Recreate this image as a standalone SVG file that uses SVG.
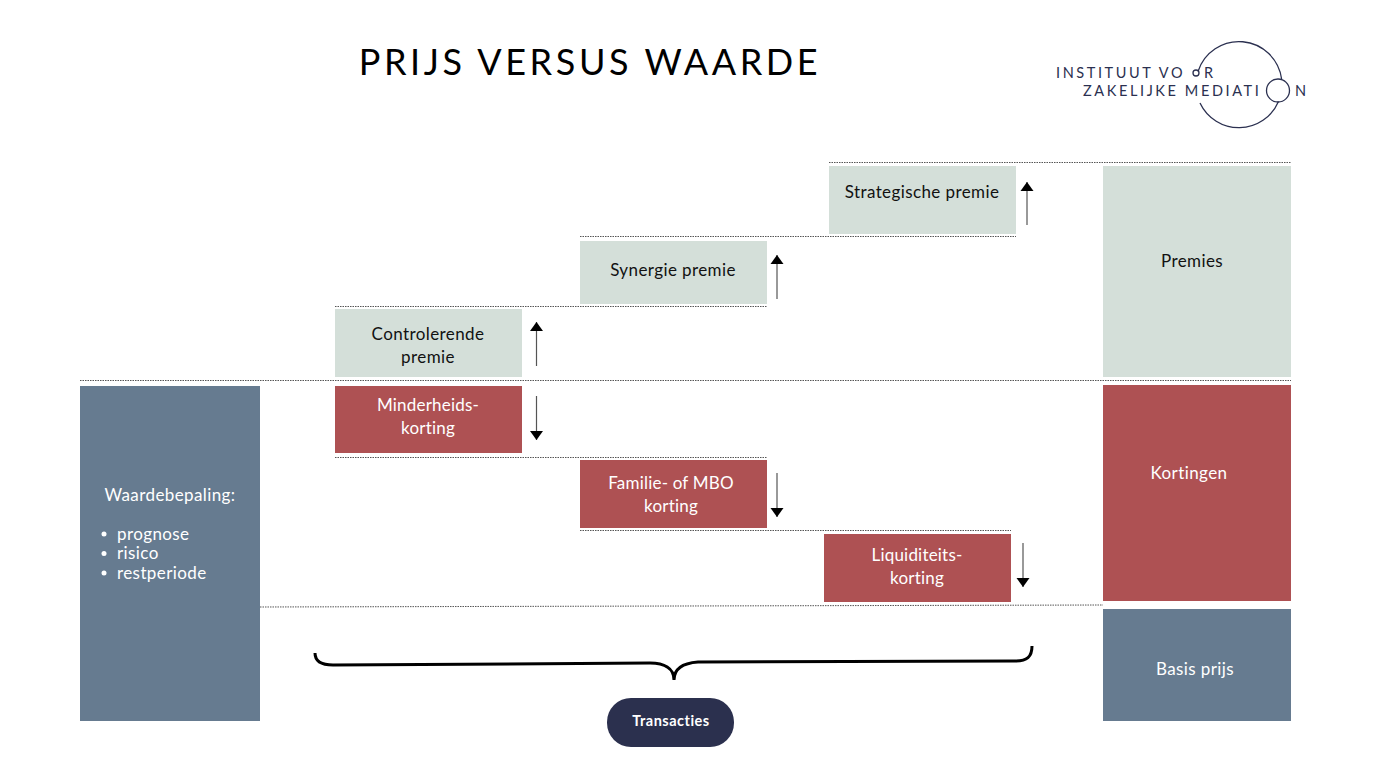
<svg xmlns="http://www.w3.org/2000/svg" width="1378" height="776" viewBox="0 0 1378 776">
<style>
text{font-family:"Lato","Open Sans",sans-serif;font-size:17px;letter-spacing:.4px;text-anchor:middle}
.d{fill:#111}.w{fill:#fff}
.g{fill:#d4dfd9}.r{fill:#ae5153}.b{fill:#667b90}
.dot{stroke:#555;stroke-width:1;stroke-dasharray:1.5 1;fill:none}
.arr{stroke:#555;stroke-width:1.2;fill:none}
text.logo{font-size:14.500px;letter-spacing:2.600px;fill:#2b3050;text-anchor:start}
.lc{fill:none;stroke:#2b3050;stroke-width:1.300}
</style>
<defs>
<marker id="ah" markerUnits="userSpaceOnUse" markerWidth="10" markerHeight="14" refX="9" refY="7" orient="auto"><path d="M0 .5L9 7L0 13.500Z" fill="#000"/></marker>
</defs>
<rect width="1378" height="776" fill="#fff"/>
<text x="590" y="75" style="font-size:36px;letter-spacing:3.600px" fill="#000">PRIJS VERSUS WAARDE</text>
<g id="logo">
<path class="lc" d="M1198 71.500A43 43 0 0 1 1281.600 79"/>
<path class="lc" d="M1278.500 101.500A43 43 0 0 1 1200 103"/>
<circle class="lc" cx="1196" cy="73" r="3"/>
<circle class="lc" cx="1278" cy="90.500" r="11.500"/>
<text class="logo" x="1056" y="78">INSTITUUT VO</text><text class="logo" x="1204" y="78">R</text>
<text class="logo" x="1083" y="96">ZAKELIJKE MEDIATI</text><text class="logo" x="1295" y="96">N</text>
</g>
<g id="connectors">
<path class="dot" d="M829 162.500H1291M580 236.500H1016M335 306.500H767M80 380.500H1291M335 457.500H767M580 530.500H1011M260 607L1103 605"/>
<path class="arr" marker-end="url(#ah)" d="M1027 225V182"/>
<path class="arr" marker-end="url(#ah)" d="M777 299V255"/>
<path class="arr" marker-end="url(#ah)" d="M536.500 366V322"/>
<path class="arr" marker-end="url(#ah)" d="M536.500 396V440"/>
<path class="arr" marker-end="url(#ah)" d="M777 473V517"/>
<path class="arr" marker-end="url(#ah)" d="M1023 543V587"/>
<path d="M315 653C315 661 321 665 333 665L650 663C664 663 674 668 674 680C674 668 684 663 698 662L1015 661C1027 661 1032 657 1032 646" fill="none" stroke="#000" stroke-width="3"/>
</g>
<g id="strategische"><rect class="g" x="829" y="166" width="187" height="68"/><text class="d" x="922" y="198">Strategische premie</text></g>
<g id="synergie"><rect class="g" x="580" y="241" width="187" height="63"/><text class="d" x="673" y="276">Synergie premie</text></g>
<g id="controlerende"><rect class="g" x="335" y="309" width="187" height="68"/><text class="d" x="428" y="340">Controlerende</text><text class="d" x="428" y="363">premie</text></g>
<g id="minderheids"><rect class="r" x="335" y="386" width="187" height="67"/><text class="w" x="428" y="411" style="letter-spacing:.2px">Minderheids-</text><text class="w" x="428" y="434" style="letter-spacing:.2px">korting</text></g>
<g id="familie"><rect class="r" x="580" y="460" width="187" height="68"/><text class="w" x="671" y="489" style="letter-spacing:.2px">Familie- of MBO</text><text class="w" x="671" y="512" style="letter-spacing:.2px">korting</text></g>
<g id="liquiditeits"><rect class="r" x="824" y="534" width="187" height="68"/><text class="w" x="917" y="561" style="letter-spacing:.2px">Liquiditeits-</text><text class="w" x="917" y="584" style="letter-spacing:.2px">korting</text></g>
<g id="waardebepaling"><rect class="b" x="80" y="386" width="180" height="335"/>
<text class="w" x="170" y="501">Waardebepaling:</text>
<circle class="w" cx="104" cy="534" r="2.500"/><circle class="w" cx="104" cy="553.500" r="2.500"/><circle class="w" cx="104" cy="573" r="2.500"/>
<text class="w" x="117" y="540" style="text-anchor:start">prognose</text><text class="w" x="117" y="559" style="text-anchor:start">risico</text><text class="w" x="117" y="579" style="text-anchor:start">restperiode</text></g>
<g id="premies"><rect class="g" x="1103" y="166" width="188" height="211"/><text class="d" x="1192" y="267">Premies</text></g>
<g id="kortingen"><rect class="r" x="1103" y="385" width="188" height="216"/><text class="w" x="1189" y="479">Kortingen</text></g>
<g id="basis"><rect class="b" x="1103" y="609" width="188" height="112"/><text class="w" x="1195" y="675">Basis prijs</text></g>
<g id="transacties"><rect x="607" y="698" width="127" height="49" rx="24" fill="#2b304e"/><text class="w" x="671" y="726" style="font-size:14.500px;letter-spacing:.5px;font-weight:700">Transacties</text></g>
</svg>
